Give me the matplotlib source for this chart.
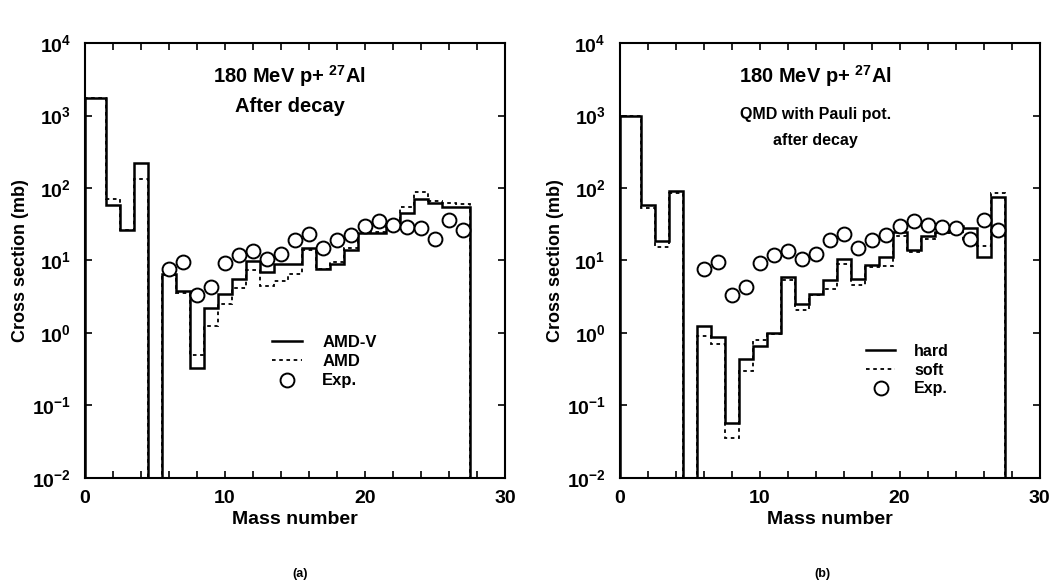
import numpy as np
import matplotlib
matplotlib.use('Agg')
import matplotlib.pyplot as plt
from matplotlib.ticker import MultipleLocator, LogLocator, NullLocator, FuncFormatter

plt.rcParams['font.family'] = ['Liberation Sans', 'DejaVu Sans']
plt.rcParams['font.weight'] = 'bold'
plt.rcParams['mathtext.fontset'] = 'custom'
plt.rcParams['mathtext.rm'] = 'Liberation Sans:bold'
plt.rcParams['mathtext.bf'] = 'Liberation Sans:bold'
plt.rcParams['mathtext.it'] = 'Liberation Sans:bold'

# fragment mass numbers and cross sections (mb)
mass = np.arange(1, 28)
amdv = [1750, 58, 26, 220, 0, 6.4, 3.8, 0.33, 2.2, 3.4, 5.5, 9.8, 6.9, 9.0, 9.0,
        15, 7.5, 8.8, 14, 24, 24, 28, 45, 70, 62, 55, 55]
amd = [1750, 70, 26, 135, 0, 6.2, 3.6, 0.5, 1.25, 2.5, 4.2, 7.3, 4.4, 5.2, 6.4,
       14, 7.5, 9.5, 15, 25, 25, 30, 55, 88, 66, 62, 60]
qmd_hard = [1000, 59, 18.6, 91, 0, 1.25, 0.87, 0.057, 0.44, 0.65, 1.0, 6.0, 2.5, 3.4, 5.3,
            10.4, 5.5, 8.7, 11, 25, 14, 22, 25, 30, 28, 11, 75]
qmd_soft = [1000, 53, 15.5, 84, 0, 0.91, 0.71, 0.035, 0.30, 0.79, 0.96, 5.3, 2.1, 3.3, 4.0,
            8.9, 4.6, 8.2, 8.5, 22, 13, 20, 24, 28, 18, 16, 85]

exp_mass = np.arange(6, 28)
exp_cs = [7.5, 9.4, 3.3, 4.3, 9.3, 12, 13.4, 10.5, 12.3, 19.2, 23.5, 14.8, 19, 22.5,
          30, 34.5, 31, 28.5, 27.8, 20, 36, 26]

edges = np.concatenate([[0], mass + 0.5])
floor = 1e-4


def pow_fmt(v, pos):
    return r'$10^{%d}$' % int(round(np.log10(v)))


def setup(ax):
    ax.set_yscale('log')
    ax.set_xlim(0, 30)
    ax.set_ylim(1e-2, 1e4)
    ax.xaxis.set_major_locator(MultipleLocator(10))
    ax.xaxis.set_minor_locator(MultipleLocator(2))
    ax.yaxis.set_major_locator(LogLocator(base=10, numticks=10))
    ax.yaxis.set_minor_locator(NullLocator())
    ax.yaxis.set_major_formatter(FuncFormatter(pow_fmt))
    ax.tick_params(which='both', direction='in', top=True, right=True, length=5, width=1.2,
                   labelsize=14)
    ax.tick_params(axis='x', pad=9)
    ax.tick_params(axis='y', pad=10)
    for s in ax.spines.values():
        s.set_linewidth(1.5)
    ax.set_xlabel('Mass number', fontsize=14, fontweight='bold', labelpad=3)
    ax.set_ylabel('Cross section (mb)', fontsize=13, fontweight='bold', labelpad=2)


fig = plt.figure(figsize=(10.5, 5.82), dpi=100)
ax1 = fig.add_axes([0.081, 0.179, 0.4, 0.747])
ax2 = fig.add_axes([0.590, 0.179, 0.4, 0.747])

# (a) AMD-V vs AMD
setup(ax1)
ax1.stairs(np.where(np.array(amdv) > 0, amdv, floor), edges, baseline=floor,
           color='black', lw=1.8, label='AMD-V')
ax1.stairs(np.where(np.array(amd) > 0, amd, floor), edges, baseline=floor,
           color='black', lw=1.3, ls=(0, (2, 2)), label='AMD')
ax1.plot(exp_mass, exp_cs, 'o', ms=10, mfc='white', mec='black', mew=1.4, label='Exp.')
ax1.text(14.6, 10**3.55, r'180 MeV p+ $^{27}$Al', ha='center', va='center', fontsize=14.5)
ax1.text(14.6, 10**3.12, 'After decay', ha='center', va='center', fontsize=14.5)
ax1.legend(loc='upper left', bbox_to_anchor=(0.41, 0.363), frameon=False, fontsize=12,
           handlelength=1.8, handletextpad=1.2, labelspacing=0.25)

# (b) QMD with Pauli potential
setup(ax2)
ax2.stairs(np.where(np.array(qmd_hard) > 0, qmd_hard, floor), edges, baseline=floor,
           color='black', lw=1.8, label='hard')
ax2.stairs(np.where(np.array(qmd_soft) > 0, qmd_soft, floor), edges, baseline=floor,
           color='black', lw=1.3, ls=(0, (2, 2)), label='soft')
ax2.plot(exp_mass, exp_cs, 'o', ms=10, mfc='white', mec='black', mew=1.4, label='Exp.')
ax2.text(14.0, 10**3.55, r'180 MeV p+ $^{27}$Al', ha='center', va='center', fontsize=14.5)
ax2.text(14.0, 10**3.02, 'QMD with Pauli pot.', ha='center', va='center', fontsize=11.5)
ax2.text(14.0, 10**2.65, 'after decay', ha='center', va='center', fontsize=11.5)
ax2.legend(loc='upper left', bbox_to_anchor=(0.553, 0.342), frameon=False, fontsize=11.5,
           handlelength=1.8, handletextpad=1.2, labelspacing=0.25)

fig.text(0.286, 0.003, '(a)', ha='center', va='bottom', fontsize=9)
fig.text(0.783, 0.003, '(b)', ha='center', va='bottom', fontsize=9)

fig.savefig('out.png', dpi=100)
